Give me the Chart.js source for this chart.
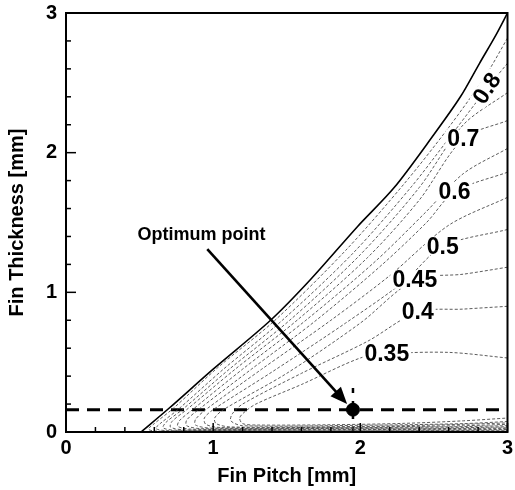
<!DOCTYPE html>
<html>
<head>
<meta charset="utf-8">
<script src="https://cdn.jsdelivr.net/npm/chart.js@4.4.1/dist/chart.umd.min.js"></script>
<style>
  html,body{margin:0;padding:0;background:#fff;}
  #wrap{width:515px;height:490px;}
</style>
</head>
<body>
<div id="wrap"><canvas id="c" width="515" height="490"></canvas></div>
<script>
/* ---- data (x = fin pitch mm, y = fin thickness mm) ---- */
const xTicks = [0, 1, 2, 3];
const yTicks = [0, 1, 2, 3];

// solid feasibility boundary
const boundary = [[0.51,0],[0.70,0.17],[1.0,0.45],[1.39,0.80],[1.66,1.09],[1.98,1.47],[2.23,1.75],[2.5,2.13],[2.68,2.40],[2.81,2.64],[2.92,2.84],[3.0,3.0]];

// dashed efficiency contours (upper branch from the right edge, hairpin, lower branch back along the axis)
const c085 = [[3.0,2.82],[2.85,2.55],[2.6,2.18],[2.3,1.78],[1.9,1.3],[1.42,0.8],[1.03,0.46],[0.73,0.17],[0.6,0.06],[0.56,0.02],[0.62,0.006],[1.2,0.004],[2.0,0.004],[3.0,0.006]];
const c080 = [[3.0,2.64],[2.86,2.46],[2.6,2.1],[2.35,1.76],[1.95,1.28],[1.47,0.8],[1.07,0.45],[0.76,0.16],[0.64,0.06],[0.61,0.025],[0.68,0.01],[1.3,0.008],[2.2,0.009],[3.0,0.012]];
const c075 = [[3.0,2.43],[2.7,2.2],[2.4,1.75],[2.0,1.27],[1.52,0.8],[1.11,0.45],[0.79,0.16],[0.68,0.07],[0.66,0.03],[0.74,0.013],[1.4,0.012],[2.3,0.014],[3.0,0.018]];
const c070 = [[3.0,2.23],[2.7,2.1],[2.4,1.66],[2.05,1.25],[1.57,0.8],[1.15,0.45],[0.82,0.16],[0.72,0.075],[0.71,0.035],[0.8,0.016],[1.5,0.016],[2.4,0.019],[3.0,0.024]];
const c065 = [[3.0,2.03],[2.7,1.85],[2.45,1.58],[2.1,1.22],[1.63,0.8],[1.2,0.45],[0.86,0.16],[0.77,0.08],[0.76,0.04],[0.86,0.02],[1.6,0.02],[2.5,0.024],[3.0,0.03]];
const c060 = [[3.0,1.86],[2.64,1.72],[2.45,1.5],[2.15,1.2],[1.7,0.8],[1.26,0.45],[0.9,0.16],[0.82,0.085],[0.82,0.045],[0.92,0.024],[1.7,0.025],[2.6,0.03],[3.0,0.037]];
const c055 = [[3.0,1.68],[2.6,1.48],[2.2,1.12],[1.8,0.8],[1.33,0.45],[0.95,0.16],[0.88,0.09],[0.88,0.05],[0.98,0.028],[1.8,0.03],[2.6,0.037],[3.0,0.045]];
const c050 = [[3.0,1.45],[2.56,1.33],[2.3,1.08],[1.9,0.78],[1.4,0.43],[1.0,0.16],[0.94,0.1],[0.95,0.055],[1.05,0.032],[1.9,0.035],[2.7,0.045],[3.0,0.055]];
const c045 = [[3.0,1.18],[2.7,1.13],[2.37,1.09],[2.0,0.78],[1.5,0.42],[1.07,0.16],[1.01,0.1],[1.02,0.06],[1.12,0.036],[2.0,0.04],[2.7,0.055],[3.0,0.065]];
const c040 = [[3.0,0.9],[2.7,0.88],[2.39,0.86],[2.05,0.65],[1.6,0.42],[1.2,0.2],[1.13,0.13],[1.12,0.08],[1.2,0.045],[2.0,0.048],[2.7,0.06],[3.0,0.075]];
const c035 = [[3.0,0.53],[2.6,0.57],[2.18,0.56],[2.0,0.53],[1.6,0.34],[1.29,0.2],[1.21,0.14],[1.18,0.1],[1.2,0.06],[1.3,0.05],[1.8,0.052],[2.3,0.062],[2.7,0.08],[3.0,0.1]];
const contours = [c085,c080,c075,c070,c065,c060,c055,c050,c045,c040,c035];

// contour labels: text, x, y, rotation (deg)
const labelText = ['0.8','0.7','0.6','0.5','0.45','0.4','0.35'];
const labelX    = [2.86, 2.70, 2.64, 2.56, 2.37, 2.39, 2.18];
const labelY    = [2.46, 2.10, 1.72, 1.33, 1.09, 0.86, 0.56];
const labelRot  = [-57, 0, 0, 0, 0, 0, 0];

// optimum point and its guide lines
const optimum = [[1.95, 0.16]];
const optLine = [[0, 0.16],[3, 0.16]];
const optDrop = [[1.95, 0],[1.95, 0.33]];
const arrowFrom = [0.96, 1.31], arrowTo = [1.91, 0.2];
const noteText = 'Optimum point', noteAt = [0.92, 1.41];

const FONT = '"Liberation Sans", Arial, sans-serif';
const pts = a => a.map(p => ({x:p[0], y:p[1]}));

const datasets = [];
contours.forEach(c => datasets.push({
  data:pts(c), showLine:true, pointRadius:0, borderColor:'#4a4a4a', borderWidth:0.9,
  borderDash:[3,2], tension:0.3
}));
datasets.push({data:pts(boundary), showLine:true, pointRadius:0, borderColor:'#000', borderWidth:1.6, tension:0.3});
datasets.push({data:pts(optLine), showLine:true, pointRadius:0, borderColor:'#000', borderWidth:3, borderDash:[13,8]});
datasets.push({data:pts(optDrop), showLine:true, pointRadius:0, borderColor:'#000', borderWidth:2.5, borderDash:[5,8]});
datasets.push({data:pts(optimum), showLine:false, pointRadius:6.5, pointBackgroundColor:'#000', pointBorderColor:'#000'});

/* ---- frame, inward ticks, contour labels, arrow ---- */
const decor = {
  id:'decor',
  afterDatasetsDraw(chart){
    const {ctx, chartArea:a, scales:{x, y}} = chart;
    ctx.save();
    // contour labels with a white knock-out box
    ctx.font = 'bold 23px ' + FONT;
    ctx.textAlign = 'center'; ctx.textBaseline = 'middle';
    labelText.forEach((t, i) => {
      const px = x.getPixelForValue(labelX[i]), py = y.getPixelForValue(labelY[i]);
      const w = ctx.measureText(t).width;
      ctx.save();
      ctx.translate(px, py); ctx.rotate(labelRot[i] * Math.PI / 180);
      ctx.fillStyle = '#fff'; ctx.fillRect(-w/2 - 2, -9, w + 4, 18);
      ctx.fillStyle = '#000'; ctx.fillText(t, 0, 1);
      ctx.restore();
    });
    // annotation text + arrow
    ctx.font = 'bold 18px ' + FONT;
    ctx.fillStyle = '#000';
    ctx.fillText(noteText, x.getPixelForValue(noteAt[0]), y.getPixelForValue(noteAt[1]));
    const x0 = x.getPixelForValue(arrowFrom[0]), y0 = y.getPixelForValue(arrowFrom[1]);
    const x1 = x.getPixelForValue(arrowTo[0]), y1 = y.getPixelForValue(arrowTo[1]);
    const ang = Math.atan2(y1 - y0, x1 - x0), hl = 17, hw = 7;
    ctx.strokeStyle = '#000'; ctx.lineWidth = 2.6;
    ctx.beginPath(); ctx.moveTo(x0, y0);
    ctx.lineTo(x1 - hl * 0.8 * Math.cos(ang), y1 - hl * 0.8 * Math.sin(ang)); ctx.stroke();
    ctx.beginPath();
    ctx.moveTo(x1, y1);
    ctx.lineTo(x1 - hl*Math.cos(ang) + hw*Math.sin(ang), y1 - hl*Math.sin(ang) - hw*Math.cos(ang));
    ctx.lineTo(x1 - hl*Math.cos(ang) - hw*Math.sin(ang), y1 - hl*Math.sin(ang) + hw*Math.cos(ang));
    ctx.closePath(); ctx.fill();
    // inward ticks on left and bottom axes
    ctx.lineWidth = 1.5;
    x.ticks.forEach(t => {
      const major = Math.abs(t.value - Math.round(t.value)) < 1e-6;
      const px = x.getPixelForValue(t.value);
      ctx.beginPath(); ctx.moveTo(px, a.bottom); ctx.lineTo(px, a.bottom - (major ? 9 : 5)); ctx.stroke();
    });
    y.ticks.forEach(t => {
      const major = Math.abs(t.value - Math.round(t.value)) < 1e-6;
      const py = y.getPixelForValue(t.value);
      ctx.beginPath(); ctx.moveTo(a.left, py); ctx.lineTo(a.left + (major ? 10 : 5), py); ctx.stroke();
    });
    // frame
    ctx.lineWidth = 2;
    ctx.strokeRect(a.left, a.top, a.right - a.left, a.bottom - a.top);
    ctx.restore();
  }
};

const tickLabel = list => v => list.includes(Math.round(v * 1000) / 1000) ? String(Math.round(v)) : '';
const tickFont = {family:FONT, size:20, weight:'bold'};

new Chart(document.getElementById('c'), {
  type:'scatter',
  data:{datasets},
  options:{
    responsive:false, animation:false,
    layout:{padding:{top:13, right:4, left:0, bottom:0}},
    plugins:{legend:{display:false}, tooltip:{enabled:false}},
    scales:{
      x:{
        type:'linear', min:0, max:3,
        grid:{display:false, drawTicks:false}, border:{display:false},
        ticks:{stepSize:0.2, autoSkip:false, maxRotation:0, padding:4, color:'#000', font:tickFont, callback:tickLabel(xTicks)},
        title:{display:true, text:'Fin Pitch [mm]', color:'#000', font:{family:FONT, size:20, weight:'bold'}, padding:{top:0, bottom:2}},
        afterFit(s){ s.height = 58; s.paddingLeft = 0; s.paddingRight = 0; }
      },
      y:{
        type:'linear', min:0, max:3,
        grid:{display:false, drawTicks:false}, border:{display:false},
        ticks:{stepSize:0.2, autoSkip:false, padding:9, color:'#000', font:tickFont, callback:tickLabel(yTicks)},
        title:{display:true, text:'Fin Thickness [mm]', color:'#000', font:{family:FONT, size:20, weight:'bold'}, padding:{top:5, bottom:0}},
        afterFit(s){ s.width = 66; s.paddingTop = 0; s.paddingBottom = 0; }
      }
    }
  },
  plugins:[decor]
});
</script>
</body>
</html>
